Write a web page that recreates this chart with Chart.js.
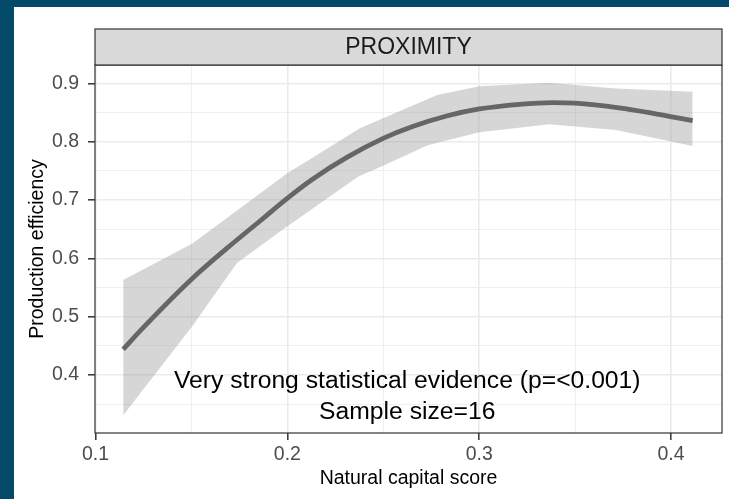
<!DOCTYPE html>
<html>
<head>
<meta charset="utf-8">
<script src="https://cdn.jsdelivr.net/npm/chart.js@4.4.1/dist/chart.umd.min.js"></script>
<style>
html, body { margin: 0; padding: 0; background: #02496a; }
#wrap { position: absolute; left: 14px; top: 7px; width: 715px; height: 492px; background: #fff; }
</style>
</head>
<body>
<div id="wrap"><canvas id="chart" width="715" height="492"></canvas></div>
<script>
// fitted curve
const fitX = [0.1144, 0.1251, 0.1503, 0.1684, 0.1857, 0.1996, 0.2133, 0.2310, 0.2502, 0.2653, 0.2830, 0.3001, 0.3209, 0.3381, 0.3500, 0.3729, 0.3900, 0.4113];
const fitY = [0.444, 0.482, 0.565, 0.617, 0.664, 0.702, 0.736, 0.773, 0.806, 0.826, 0.844, 0.856, 0.864, 0.867, 0.866, 0.858, 0.849, 0.836];

// confidence band (upper and lower edges)
const bandHighX = [0.1144, 0.1503, 0.1996, 0.2378, 0.2781, 0.3001, 0.3365, 0.3713, 0.4113];
const bandHighY = [0.563, 0.625, 0.745, 0.823, 0.880, 0.895, 0.901, 0.891, 0.8856];
const bandLowX = [0.1144, 0.1503, 0.1737, 0.1996, 0.2049, 0.2368, 0.2508, 0.2731, 0.3001, 0.3365, 0.3713, 0.4113];
const bandLowY = [0.331, 0.483, 0.592, 0.654, 0.666, 0.740, 0.760, 0.794, 0.816, 0.830, 0.820, 0.7925];

const panelTitle = 'PROXIMITY';
const xTitle = 'Natural capital score';
const yTitle = 'Production efficiency';
const noteLines = ['Very strong statistical evidence (p=<0.001)', 'Sample size=16'];
const noteX = 0.2625;
const noteY = [0.390, 0.336];

const FONT = '"Liberation Sans", Arial, sans-serif';

function toPoints(xs, ys) {
    return xs.map((x, i) => ({ x: x, y: ys[i] }));
}

function isMajor(v) {
    return Math.abs(v * 10 - Math.round(v * 10)) < 1e-6;
}

const panelPlugin = {
    id: 'panel',
    afterDatasetsDraw(chart) {
        const { ctx, chartArea: a, scales } = chart;
        ctx.save();
        // notes
        ctx.fillStyle = '#000';
        ctx.font = '24.7px ' + FONT;
        ctx.textAlign = 'center';
        ctx.textBaseline = 'middle';
        noteLines.forEach((t, i) => {
            ctx.fillText(t, scales.x.getPixelForValue(noteX), scales.y.getPixelForValue(noteY[i]));
        });
        // border
        ctx.strokeStyle = '#333';
        ctx.lineWidth = 1.2;
        ctx.strokeRect(a.left, a.top, a.right - a.left, a.bottom - a.top);
        // strip
        const top = 22;
        ctx.fillStyle = '#d9d9d9';
        ctx.fillRect(a.left, top, a.right - a.left, a.top - top);
        ctx.strokeRect(a.left, top, a.right - a.left, a.top - top);
        ctx.fillStyle = '#1a1a1a';
        ctx.font = '23px ' + FONT;
        ctx.fillText(panelTitle, (a.left + a.right) / 2, (top + a.top) / 2 + 1);
        ctx.restore();
    }
};

function gridOpts() {
    return {
        color: '#ebebeb',
        lineWidth: c => (c.tick && isMajor(c.tick.value)) ? 1.6 : 0.8,
        tickColor: c => (c.tick && isMajor(c.tick.value)) ? '#333' : 'rgba(0,0,0,0)',
        tickWidth: 1.5,
        tickLength: 7
    };
}

new Chart(document.getElementById('chart'), {
    type: 'line',
    data: {
        datasets: [
            {
                data: toPoints(fitX, fitY),
                borderColor: '#666666',
                borderWidth: 4.8,
                pointRadius: 0,
                cubicInterpolationMode: 'monotone',
                fill: false
            },
            {
                data: toPoints(bandLowX, bandLowY),
                borderWidth: 0,
                borderColor: 'rgba(0,0,0,0)',
                pointRadius: 0,
                fill: false
            },
            {
                data: toPoints(bandHighX, bandHighY),
                borderWidth: 0,
                borderColor: 'rgba(0,0,0,0)',
                backgroundColor: 'rgba(153,153,153,0.4)',
                pointRadius: 0,
                fill: 1
            }
        ]
    },
    options: {
        responsive: false,
        animation: false,
        layout: { padding: { top: 58, right: 7, left: 0, bottom: 0 } },
        plugins: { legend: { display: false }, tooltip: { enabled: false } },
        scales: {
            x: {
                type: 'linear',
                min: 0.0997,
                max: 0.4266,
                afterFit: s => { s.height = 66; },
                grid: gridOpts(),
                border: { display: false },
                ticks: {
                    stepSize: 0.05,
                    includeBounds: false,
                    autoSkip: false,
                    maxRotation: 0,
                    padding: 3,
                    color: '#4d4d4d',
                    font: { family: FONT, size: 19.5 },
                    callback: v => isMajor(v) ? v.toFixed(1) : ''
                },
                title: {
                    display: true,
                    text: xTitle,
                    color: '#000',
                    font: { family: FONT, size: 19.5 },
                    padding: { top: 0, bottom: 9 }
                }
            },
            y: {
                type: 'linear',
                min: 0.3006,
                max: 0.9314,
                afterFit: s => { s.width = 81; },
                grid: gridOpts(),
                border: { display: false },
                ticks: {
                    stepSize: 0.05,
                    includeBounds: false,
                    autoSkip: false,
                    padding: 9,
                    color: '#4d4d4d',
                    font: { family: FONT, size: 19.5 },
                    callback: v => isMajor(v) ? v.toFixed(1) : ''
                },
                title: {
                    display: true,
                    text: yTitle,
                    color: '#000',
                    font: { family: FONT, size: 19.5 },
                    padding: { top: 12, bottom: 0 }
                }
            }
        }
    },
    plugins: [panelPlugin]
});
</script>
</body>
</html>
